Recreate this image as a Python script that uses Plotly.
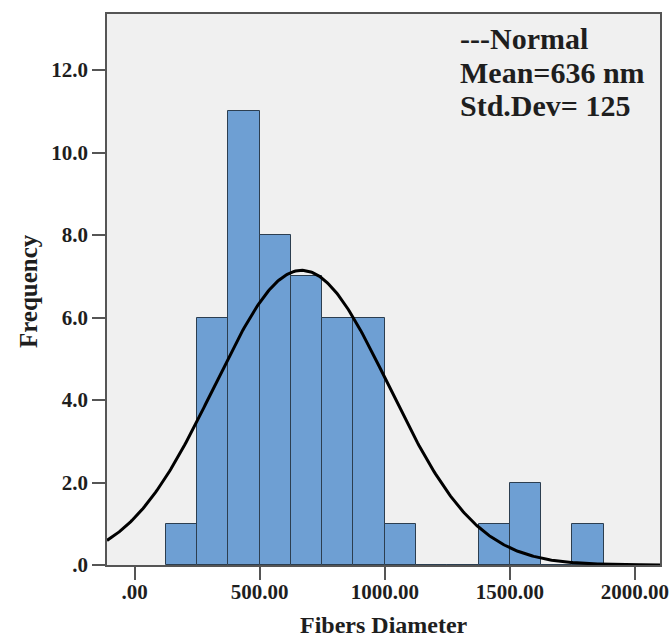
import numpy as np
import plotly.graph_objects as go

# Histogram bins (left edges) and counts
bin_left = [125, 250, 375, 500, 625, 750, 875, 1000, 1125, 1250, 1375, 1500, 1625, 1750]
counts = [1, 6, 11, 8, 7, 6, 6, 1, 0, 0, 1, 2, 0, 1]
bin_width = 125

# Fitted normal curve parameters (as drawn)
curve_mean = 668
curve_sd = 349
n_total = sum(counts)

x_tickvals = [0, 500, 1000, 1500, 2000]
x_ticktext = [".00", "500.00", "1000.00", "1500.00", "2000.00"]
y_tickvals = [0, 2, 4, 6, 8, 10, 12]
y_ticktext = [".0", "2.0", "4.0", "6.0", "8.0", "10.0", "12.0"]

annot_lines = ["---Normal", "Mean=636 nm", "Std.Dev= 125"]
x_title = "Fibers Diameter"
y_title = "Frequency"

x_range = [-110, 2100]
y_range = [0, 13.36]

centers = [b + bin_width / 2 for b in bin_left]

xs = np.linspace(x_range[0], x_range[1], 400)
ys = n_total * bin_width / (curve_sd * np.sqrt(2 * np.pi)) * np.exp(-((xs - curve_mean) ** 2) / (2 * curve_sd ** 2))

font_family = "Liberation Serif"
txt = "#1e1e1e"

fig = go.Figure()
fig.add_trace(go.Bar(
    x=centers, y=counts, width=bin_width,
    marker=dict(color="#6e9fd3", line=dict(color="#2c3e50", width=1)),
    showlegend=False, hoverinfo="skip",
))
fig.add_trace(go.Scatter(
    x=xs, y=ys, mode="lines",
    line=dict(color="black", width=3),
    showlegend=False, hoverinfo="skip",
))

axis_common = dict(
    ticks="outside", ticklen=13, tickwidth=1.5, tickcolor="#555555",
    showline=True, linecolor="#555555", linewidth=1.5, mirror=True,
    showgrid=False, zeroline=False, automargin=False,
    tickfont=dict(family=font_family, size=21, color=txt, weight="bold"),
)

fig.update_layout(
    width=670, height=637,
    margin=dict(l=107, r=10, t=14, b=72),
    paper_bgcolor="white",
    plot_bgcolor="#f0f0f0",
    bargap=0,
    font=dict(family=font_family, color=txt),
    xaxis=dict(range=x_range, tickvals=x_tickvals, ticktext=x_ticktext,
               ticklabelstandoff=-6, **axis_common),
    yaxis=dict(range=y_range, tickvals=y_tickvals, ticktext=y_ticktext, **axis_common),
)

fig.add_annotation(
    xref="paper", yref="paper", x=0.501, y=-0.108,
    text="<b>" + x_title + "</b>", showarrow=False, xanchor="center", yanchor="middle",
    font=dict(family=font_family, size=24, color=txt),
)
fig.add_annotation(
    xref="paper", yref="paper", x=-0.143, y=0.497, textangle=-90,
    text="<b>" + y_title + "</b>", showarrow=False, xanchor="center", yanchor="middle",
    font=dict(family=font_family, size=25, color=txt),
)

line_y = [0.9564, 0.8947, 0.8348]
for t, yy in zip(annot_lines, line_y):
    fig.add_annotation(
        xref="paper", yref="paper", x=0.635, y=yy,
        text="<b>" + t + "</b>", showarrow=False, xanchor="left", yanchor="middle",
        font=dict(family=font_family, size=30, color=txt),
    )

fig.write_html(
    "out.html",
    config={"displayModeBar": False},
    post_script="document.body.style.margin='0';document.body.style.overflow='hidden';",
)
